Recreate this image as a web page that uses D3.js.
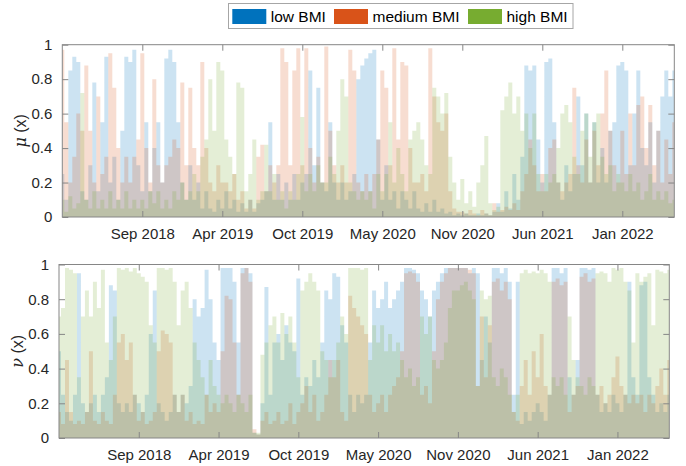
<!DOCTYPE html>
<html>
<head>
<meta charset="utf-8">
<script src="https://cdn.jsdelivr.net/npm/d3@7"></script>
<style>
  body { margin: 0; background: #fff; }
  svg { display: block; font-family: "Liberation Sans", Arial, sans-serif; }
</style>
</head>
<body>
<div id="chart"></div>
<script>
// values every 10 days from 2018-03-04 to 2022-05-12
let start_date = '2018-03-04';
let step_days = 10;

let series_names = ['low BMI', 'medium BMI', 'high BMI'];
let series_colors = ['#0072BD', '#D95319', '#77AC30'];

let tick_dates = ['2018-09-20', '2019-04-08', '2019-10-25', '2020-05-12', '2020-11-28', '2021-06-16', '2022-01-02'];
let tick_labels = ['Sep 2018', 'Apr 2019', 'Oct 2019', 'May 2020', 'Nov 2020', 'Jun 2021', 'Jan 2022'];
let y_ticks = [0, 0.2, 0.4, 0.6, 0.8, 1];

// mu(x)
let mu_low = [
  0.25, 0.1, 0.85, 0.93, 0.9, 0.15, 0.1, 0.3, 0.78, 0.15,
  0.55, 0.93, 0.2, 0.35, 0.1, 0.5, 0.93, 0.9, 0.97, 0.3,
  0.15, 0.55, 0.15, 0.4, 0.55, 0.2, 0.92, 0.97, 0.9, 0.55,
  0.2, 0.1, 0.3, 0.1, 0.2, 0.05, 0.15, 0.05, 0.03, 0.1,
  0.05, 0.15, 0.05, 0.1, 0.03, 0.08, 0.03, 0.1, 0.03, 0.08,
  0.1, 0.15, 0.55, 0.1, 0.25, 0.1, 0.2, 0.1, 0.25, 0.1,
  0.2, 0.25, 0.85, 0.3, 0.75, 0.2, 0.15, 0.55, 0.2, 0.1,
  0.2, 0.1, 0.15, 0.25, 0.8, 0.88, 0.92, 0.95, 0.97, 0.45,
  0.1, 0.3, 0.1, 0.15, 0.05, 0.15, 0.1, 0.05, 0.15, 0.05,
  0.03, 0.08, 0.03, 0.1, 0.03, 0.05, 0.02, 0.03, 0.01, 0.02,
  0.01, 0.02, 0.01, 0.01, 0.02, 0.01, 0.02, 0.01, 0.03, 0.08,
  0.03, 0.15, 0.05, 0.25, 0.1, 0.35, 0.88, 0.85, 0.88, 0.45,
  0.2, 0.9, 0.92, 0.55, 0.2, 0.1, 0.3, 0.15, 0.25, 0.7,
  0.3, 0.6, 0.2, 0.55, 0.2, 0.4, 0.2, 0.5, 0.55, 0.88,
  0.9, 0.85, 0.3, 0.6, 0.85, 0.4, 0.3, 0.55, 0.2, 0.5,
  0.7, 0.85, 0.7, 0.85
];
let mu_medium = [
  0.97, 0.55, 0.2, 0.35, 0.6, 0.5, 0.88, 0.5, 0.2, 0.7,
  0.25, 0.35, 0.95, 0.75, 0.4, 0.2, 0.35, 0.2, 0.35, 0.45,
  0.95, 0.4, 0.2, 0.8, 0.3, 0.2, 0.3, 0.35, 0.45, 0.4,
  0.78, 0.3, 0.75, 0.4, 0.3, 0.9, 0.4, 0.2, 0.15, 0.3,
  0.2, 0.2, 0.15, 0.25, 0.1, 0.15, 0.05, 0.1, 0.05, 0.35,
  0.42, 0.15, 0.3, 0.2, 0.3, 0.98, 0.9, 0.3, 0.85, 0.98,
  0.3, 0.98, 0.4, 0.2, 0.35, 0.2, 0.99, 0.5, 0.3, 0.2,
  0.3, 0.2, 0.97, 0.85, 0.2, 0.15, 0.25, 0.15, 0.25, 0.45,
  0.85, 0.75, 0.3, 0.98, 0.45, 0.9, 0.88, 0.4, 0.2, 0.2,
  0.25, 0.15, 0.98, 0.7, 0.55, 0.5, 0.6, 0.15, 0.05, 0.03,
  0.03, 0.02, 0.04, 0.02, 0.01, 0.04, 0.02, 0.01, 0.08, 0.03,
  0.04, 0.06, 0.04, 0.08, 0.04, 0.15, 0.25, 0.45, 0.3, 0.15,
  0.25, 0.15, 0.4, 0.45, 0.2, 0.15, 0.2, 0.25, 0.75, 0.3,
  0.2, 0.45, 0.2, 0.5, 0.3, 0.6, 0.85, 0.5, 0.3, 0.2,
  0.5, 0.25, 0.6, 0.3, 0.65, 0.7, 0.4, 0.65, 0.3, 0.5,
  0.2, 0.45, 0.25, 0.55
];
let mu_high = [
  0.1, 0.03, 0.12, 0.05, 0.08, 0.72, 0.1, 0.05, 0.15, 0.05,
  0.1, 0.05, 0.15, 0.05, 0.1, 0.05, 0.15, 0.05, 0.1, 0.05,
  0.1, 0.05, 0.15, 0.08, 0.15, 0.05, 0.1, 0.05, 0.15, 0.1,
  0.2, 0.1, 0.15, 0.25, 0.15, 0.35, 0.45, 0.8, 0.5, 0.9,
  0.85, 0.45, 0.35, 0.25, 0.78, 0.75, 0.15, 0.25, 0.45, 0.1,
  0.15, 0.42, 0.15, 0.25, 0.1, 0.15, 0.05, 0.15, 0.1, 0.25,
  0.58, 0.15, 0.25, 0.15, 0.3, 0.2, 0.2, 0.35, 0.25, 0.5,
  0.8, 0.7, 0.2, 0.15, 0.1, 0.15, 0.1, 0.15, 0.05, 0.25,
  0.15, 0.25, 0.55, 0.2, 0.4, 0.25, 0.15, 0.45, 0.5, 0.55,
  0.45, 0.3, 0.25, 0.75, 0.7, 0.6, 0.72, 0.35, 0.2, 0.1,
  0.22, 0.08, 0.15, 0.06, 0.2, 0.3, 0.47, 0.08, 0.04, 0.06,
  0.62, 0.7, 0.78, 0.6, 0.7, 0.5, 0.6, 0.4, 0.6, 0.25,
  0.15, 0.25, 0.2, 0.25, 0.4, 0.6, 0.65, 0.55, 0.35, 0.25,
  0.5, 0.6, 0.35, 0.55, 0.6, 0.35, 0.25, 0.3, 0.15, 0.25,
  0.2, 0.15, 0.25, 0.15, 0.2, 0.1, 0.15, 0.25, 0.1, 0.15,
  0.1, 0.15, 0.08, 0.1
];

// nu(x)
let nu_low = [
  0.5, 0.25, 0.15, 0.1, 0.25, 0.95, 0.2, 0.15, 0.2, 0.25,
  0.15, 0.25, 0.35, 0.88, 0.85, 0.2, 0.15, 0.2, 0.15, 0.25,
  0.2, 0.15, 0.25, 0.6, 0.85, 0.2, 0.15, 0.1, 0.15, 0.25,
  0.15, 0.25, 0.2, 0.3, 0.8, 0.7, 0.75, 0.97, 0.8, 0.55,
  0.45, 0.98, 0.98, 0.98, 0.9, 0.55, 0.98, 0.98, 0.95, 0.03,
  0.02, 0.2, 0.87, 0.25, 0.55, 0.6, 0.45, 0.65, 0.55, 0.5,
  0.92, 0.25, 0.35, 0.3, 0.45, 0.35, 0.55, 0.85, 0.8, 0.95,
  0.93, 0.65, 0.55, 0.25, 0.15, 0.25, 0.2, 0.25, 0.55, 0.85,
  0.75, 0.8, 0.9, 0.75, 0.8, 0.85, 0.9, 0.98, 0.98, 0.97,
  0.95, 0.85, 0.8, 0.7, 0.85, 0.9, 0.95, 0.98, 0.98, 0.98,
  0.98, 0.98, 0.98, 0.95, 0.98, 0.95, 0.45, 0.7, 0.55, 0.98,
  0.98, 0.95, 0.98, 0.9, 0.25, 0.9, 0.08, 0.15, 0.1, 0.15,
  0.2, 0.15, 0.1, 0.25, 0.98, 0.98, 0.95, 0.98, 0.35, 0.25,
  0.45, 0.98, 0.98, 0.97, 0.98, 0.25, 0.15, 0.2, 0.15, 0.25,
  0.2, 0.15, 0.25, 0.9, 0.35, 0.25, 0.88, 0.9, 0.35, 0.25,
  0.15, 0.2, 0.15, 0.25
];
let nu_medium = [
  0.15, 0.08, 0.45, 0.15, 0.08, 0.1, 0.08, 0.15, 0.5, 0.1,
  0.08, 0.15, 0.1, 0.08, 0.25, 0.55, 0.6, 0.45, 0.55, 0.25,
  0.1, 0.15, 0.08, 0.1, 0.15, 0.5, 0.62, 0.6, 0.55, 0.25,
  0.15, 0.25, 0.1, 0.15, 0.08, 0.1, 0.08, 0.25, 0.15, 0.2,
  0.15, 0.5, 0.82, 0.8, 0.55, 0.25, 0.95, 0.98, 0.9, 0.05,
  0.02, 0.1, 0.15, 0.08, 0.1, 0.15, 0.08, 0.1, 0.2, 0.08,
  0.15, 0.2, 0.3, 0.15, 0.25, 0.1, 0.15, 0.25, 0.45, 0.35,
  0.45, 0.15, 0.1, 0.82, 0.75, 0.7, 0.65, 0.6, 0.25, 0.15,
  0.2, 0.25, 0.15, 0.25, 0.3, 0.35, 0.5, 0.95, 0.96, 0.95,
  0.9, 0.25, 0.3, 0.2, 0.5, 0.8, 0.9, 0.95, 0.98, 0.98,
  0.98, 0.98, 0.98, 0.97, 0.95, 0.3, 0.7, 0.35, 0.65, 0.9,
  0.92, 0.85, 0.9, 0.8, 0.15, 0.1, 0.3, 0.45, 0.25, 0.5,
  0.35, 0.6, 0.3, 0.25, 0.9, 0.92, 0.88, 0.9, 0.15, 0.25,
  0.3, 0.93, 0.95, 0.9, 0.92, 0.25, 0.3, 0.2, 0.25, 0.35,
  0.47, 0.3, 0.25, 0.2, 0.25, 0.2, 0.25, 0.15, 0.25, 0.2,
  0.3, 0.4, 0.25, 0.45
];
let nu_high = [
  0.7, 0.75, 0.98, 0.97, 0.95, 0.35, 0.7, 0.85, 0.7, 0.9,
  0.75, 0.97, 0.55, 0.45, 0.7, 0.98, 0.97, 0.98, 0.96, 0.98,
  0.95, 0.93, 0.9, 0.65, 0.55, 0.98, 0.98, 0.97, 0.98, 0.9,
  0.65, 0.85, 0.9, 0.75, 0.55, 0.45, 0.35, 0.25, 0.45, 0.3,
  0.25, 0.2, 0.25, 0.2, 0.15, 0.25, 0.2, 0.15, 0.25, 0.03,
  0.03, 0.48, 0.55, 0.65, 0.7, 0.55, 0.72, 0.6, 0.7, 0.55,
  0.35, 0.85, 0.9, 0.95, 0.9, 0.85, 0.5, 0.45, 0.35, 0.45,
  0.55, 0.7, 0.6, 0.98, 0.98, 0.98, 0.97, 0.98, 0.45, 0.65,
  0.55, 0.65, 0.5, 0.6, 0.5, 0.55, 0.45, 0.35, 0.4, 0.3,
  0.35, 0.7, 0.6, 0.7, 0.45, 0.4, 0.45, 0.55, 0.75, 0.85,
  0.85, 0.88, 0.9, 0.85, 0.8, 0.3, 0.85, 0.8, 0.82, 0.35,
  0.3, 0.4, 0.35, 0.25, 0.15, 0.25, 0.95, 0.97, 0.95, 0.96,
  0.95, 0.97, 0.95, 0.9, 0.35, 0.3, 0.35, 0.25, 0.7, 0.45,
  0.35, 0.3, 0.25, 0.35, 0.3, 0.95, 0.96, 0.95, 0.9, 0.98,
  0.97, 0.98, 0.9, 0.85, 0.55, 0.95, 0.9, 0.93, 0.95, 0.65,
  0.97, 0.96, 0.95, 0.97
];

let width = 686;
let height = 466;

let svg = d3.select('#chart')
    .append('svg')
    .attr('width', width)
    .attr('height', height);

let parse = d3.utcParse('%Y-%m-%d');
let t0 = parse(start_date);
let date_at = i => d3.utcDay.offset(t0, i * step_days);
let t1 = date_at(mu_low.length - 1);

let panels = [
    {label: '\u03bc', series: [mu_low, mu_medium, mu_high], left: 62.3, right: 674.3, top: 44.7, bottom: 217, labelX: 26},
    {label: '\u03bd', series: [nu_low, nu_medium, nu_high], left: 59, right: 669.3, top: 264.5, bottom: 438, labelX: 23}
];

let axis_color = '#868686';
let text_color = '#262626';

panels.forEach((p, k) => {
    let x = d3.scaleUtc().domain([t0, t1]).range([p.left, p.right]);
    let y = d3.scaleLinear().domain([0, 1]).range([p.bottom, p.top]);

    let g = svg.append('g');

    g.append('clipPath').attr('id', 'clip' + k)
        .append('rect')
        .attr('x', p.left).attr('y', p.top)
        .attr('width', p.right - p.left).attr('height', p.bottom - p.top);

    let area = d3.area()
        .curve(d3.curveStep)
        .x((d, i) => x(date_at(i)))
        .y0(y(0))
        .y1(d => y(d));

    g.append('g').attr('clip-path', 'url(#clip' + k + ')')
        .selectAll('path')
        .data(p.series)
        .enter()
        .append('path')
        .attr('d', d => area(d))
        .attr('fill', (d, i) => series_colors[i])
        .attr('fill-opacity', 0.2)
        .attr('stroke', 'none');

    let tvals = tick_dates.map(parse);
    let fmt = d => tick_labels[tvals.findIndex(t => +t === +d)];

    let xb = d3.axisBottom(x).tickValues(tvals).tickFormat(fmt).tickSizeInner(-6).tickSizeOuter(0).tickPadding(11);
    let xt = d3.axisTop(x).tickValues(tvals).tickFormat('').tickSizeInner(-6).tickSizeOuter(0);
    let yl = d3.axisLeft(y).tickValues(y_ticks).tickFormat(d3.format('')).tickSizeInner(-6).tickSizeOuter(0).tickPadding(10);
    let yr = d3.axisRight(y).tickValues(y_ticks).tickFormat('').tickSizeInner(-6).tickSizeOuter(0);

    let axes = [
        [xb, 'translate(0,' + p.bottom + ')'],
        [xt, 'translate(0,' + p.top + ')'],
        [yl, 'translate(' + p.left + ',0)'],
        [yr, 'translate(' + p.right + ',0)']
    ];
    axes.forEach(a => {
        let ag = g.append('g').attr('transform', a[1]).call(a[0]);
        ag.select('.domain').remove();
        ag.selectAll('line').attr('stroke', axis_color);
        ag.selectAll('text')
            .attr('fill', text_color)
            .style('font-size', '15px')
            .style('font-family', '"Liberation Sans", Arial, sans-serif');
    });

    g.append('rect')
        .attr('x', p.left).attr('y', p.top)
        .attr('width', p.right - p.left).attr('height', p.bottom - p.top)
        .attr('fill', 'none')
        .attr('stroke', axis_color)
        .attr('stroke-width', 1);

    let lab = g.append('text')
        .attr('transform', 'translate(' + p.labelX + ',' + ((p.top + p.bottom) / 2) + ') rotate(-90)')
        .attr('text-anchor', 'middle')
        .attr('fill', text_color)
        .style('font-size', '16px');
    lab.append('tspan').style('font-style', 'italic').style('font-family', '"DejaVu Serif", serif').text(p.label);
    lab.append('tspan').text(' (x)');
});

// legend
let legend = svg.append('g');
legend.append('rect')
    .attr('x', 228.5).attr('y', 3.5)
    .attr('width', 344.5).attr('height', 25)
    .attr('fill', '#fff')
    .attr('stroke', '#a6a6a6');

let legend_x = [232.3, 334, 468];
legend.selectAll('rect.sw')
    .data(series_names)
    .enter()
    .append('rect')
    .attr('class', 'sw')
    .attr('x', (d, i) => legend_x[i])
    .attr('y', 9)
    .attr('width', 34)
    .attr('height', 15)
    .attr('fill', (d, i) => series_colors[i]);

legend.selectAll('text')
    .data(series_names)
    .enter()
    .append('text')
    .attr('x', (d, i) => legend_x[i] + 38.5)
    .attr('y', 22)
    .attr('fill', '#000')
    .style('font-size', '15.5px')
    .text(d => d);
</script>
</body>
</html>
